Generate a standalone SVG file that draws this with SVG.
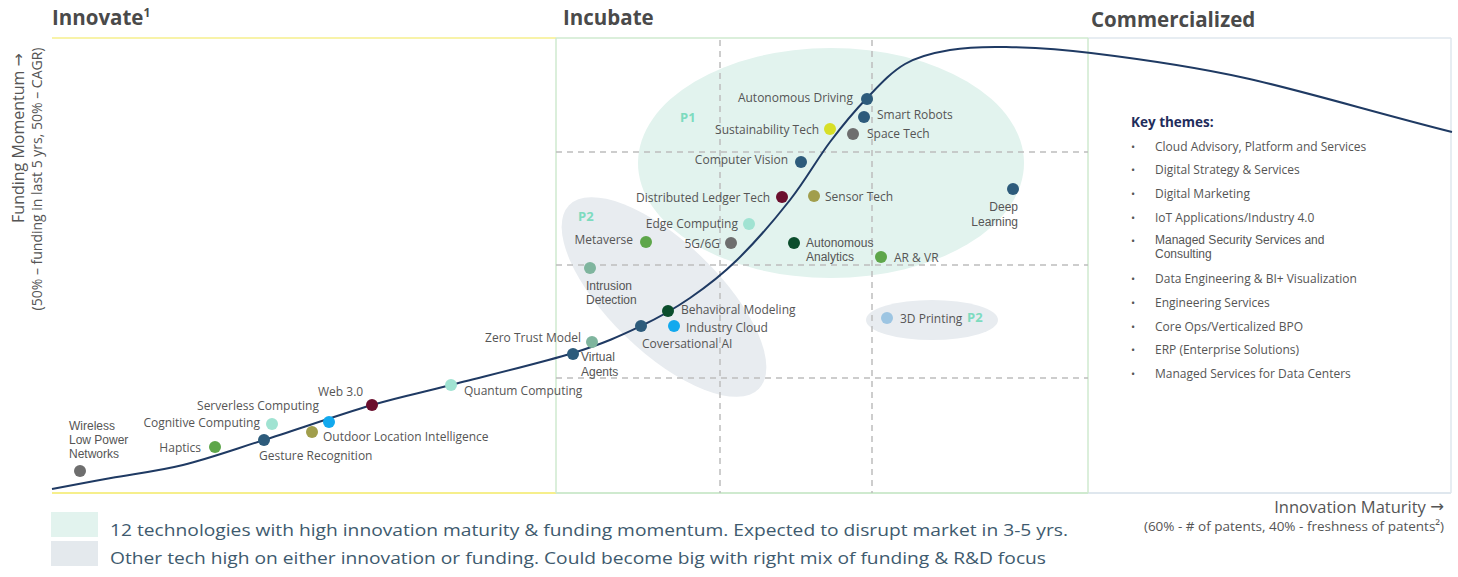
<svg xmlns="http://www.w3.org/2000/svg" width="1458" height="577" viewBox="0 0 1458 577">
<style>
text{font-family:"Open Sans","Liberation Sans",sans-serif;}
.hdr{font-size:20.5px;font-weight:bold;fill:#4a4a4a;}
.lbl{font-size:12px;fill:#555;dominant-baseline:central;}
.ml{font-family:"Liberation Sans",Arial,sans-serif;font-size:12px;}
.end{text-anchor:end;}
.pl{font-size:13px;font-weight:bold;fill:#7ddbbf;dominant-baseline:central;}
.grid{stroke:#bdbdbd;stroke-width:1.5;stroke-dasharray:6 5;fill:none;}
.kt{font-size:12px;fill:#555;dominant-baseline:central;}
.bul{font-size:11px;fill:#555;dominant-baseline:central;}
.leg{font-size:17px;fill:#3e5a6e;dominant-baseline:central;}
.arr{font-family:"DejaVu Sans",sans-serif;}
.dark{fill:#2d5b7b}.grey{fill:#6e6e6e}.green{fill:#5ea64a}.mint{fill:#a0e3d2}.sage{fill:#7fb59e}
.maroon{fill:#6b0f2e}.olive{fill:#a19e4c}.yellow{fill:#d7df26}.bblue{fill:#12a9ee}.dgreen{fill:#0b4d2c}.lblue{fill:#9dc5e2}
</style>

<!-- headers -->
<text class="hdr" x="52" y="25">Innovate<tspan font-size="12" dy="-8">1</tspan></text>
<text class="hdr" x="563" y="25">Incubate</text>
<text class="hdr" x="1091" y="27">Commercialized</text>

<!-- zones -->
<g id="zones">
<ellipse cx="831" cy="163" rx="193" ry="115" fill="#e2f3ee"/>
<ellipse cx="664" cy="297" rx="132" ry="55" transform="rotate(44 664 297)" fill="#e8ecf0"/>
<ellipse cx="932" cy="320" rx="66" ry="20" fill="#e8ecf0"/>
</g>

<!-- frame and grid -->
<g id="frame">
<line x1="52" y1="38" x2="556" y2="38" stroke="#f6ef8c" stroke-width="1.5"/>
<line x1="556" y1="38" x2="1088" y2="38" stroke="#cfeacf" stroke-width="1.5"/>
<line x1="1088" y1="38" x2="1451" y2="38" stroke="#dfe7ee" stroke-width="1.5"/>
<line x1="52" y1="493" x2="556" y2="493" stroke="#f6ef8c" stroke-width="2"/>
<line x1="556" y1="493" x2="1088" y2="493" stroke="#cfeacf" stroke-width="2"/>
<line x1="1088" y1="493" x2="1451" y2="493" stroke="#dfe7ee" stroke-width="2"/>
<line x1="1451" y1="38" x2="1451" y2="493" stroke="#dfe7ee" stroke-width="1.5"/>
<line x1="556" y1="38" x2="556" y2="493" stroke="#cfeacf" stroke-width="1.5"/>
<line x1="1088" y1="38" x2="1088" y2="493" stroke="#cfeacf" stroke-width="1.5"/>
<line class="grid" x1="720" y1="40" x2="720" y2="493"/>
<line class="grid" x1="872" y1="40" x2="872" y2="493"/>
<line class="grid" x1="556" y1="152" x2="1088" y2="152"/>
<line class="grid" x1="556" y1="265" x2="1088" y2="265"/>
<line class="grid" x1="556" y1="378" x2="1088" y2="378"/>
</g>

<!-- curve -->
<g id="connectors">
<path d="M52,489 C61.8,487.2 89.2,482 111,478 C132.8,474 157.5,471.3 183,465 C208.5,458.7 232.5,450 264,440 C295.5,430 340.8,414.2 372,405 C403.2,395.8 417.5,393.7 451,385 C484.5,376.3 541.3,362.8 573,353 C604.7,343.2 621.5,335.2 641,326 C660.5,316.8 674,309 690,298 C706,287 720.3,276.3 737,260 C753.7,243.7 774.5,219.7 790,200 C805.5,180.3 817.2,159 830,142 C842.8,125 854.5,111 867,98 C879.5,85 891.2,72 905,64 C918.8,56 933.2,52.8 950,50 C966.8,47.2 982.5,46.5 1006,47 C1029.5,47.5 1051.2,48 1091,53 C1140,59 1200,68 1245,78 C1300,90 1380,114 1452,132" fill="none" stroke="#1f3a63" stroke-width="2"/>
</g>

<!-- zone labels -->
<text class="pl" x="680" y="117">P1</text>
<text class="pl" x="578" y="216">P2</text>
<text class="pl" x="967" y="317">P2</text>

<!-- nodes -->
<g id="wireless"><circle class="grey" cx="80" cy="471" r="6"/><text class="lbl ml" x="69" y="426">Wireless<tspan x="69" dy="14">Low Power</tspan><tspan x="69" dy="14">Networks</tspan></text></g>
<g id="haptics"><circle class="green" cx="215" cy="447" r="6"/><text class="lbl end" x="201" y="447">Haptics</text></g>
<g id="gesture"><circle class="dark" cx="264" cy="440" r="6"/><text class="lbl" x="259" y="455">Gesture Recognition</text></g>
<g id="cognitive"><circle class="mint" cx="272" cy="424" r="6"/><text class="lbl end" x="260" y="422">Cognitive Computing</text></g>
<g id="outdoor"><circle class="olive" cx="312" cy="432" r="6"/><text class="lbl" x="323" y="436">Outdoor Location Intelligence</text></g>
<g id="serverless"><circle class="bblue" cx="329" cy="422" r="6"/><text class="lbl end" x="319" y="405">Serverless Computing</text></g>
<g id="web3"><circle class="maroon" cx="372" cy="405" r="6"/><text class="lbl" x="318" y="391">Web 3.0</text></g>
<g id="quantum"><circle class="mint" cx="451" cy="385" r="6"/><text class="lbl" x="464" y="390">Quantum Computing</text></g>
<g id="virtual"><circle class="dark" cx="573" cy="354" r="6"/><text class="lbl ml" x="581" y="357">Virtual<tspan x="581" dy="15">Agents</tspan></text></g>
<g id="zerotrust"><circle class="sage" cx="592" cy="342" r="6"/><text class="lbl end" x="581" y="337">Zero Trust Model</text></g>
<g id="conversational"><circle class="dark" cx="641" cy="326" r="6"/><text class="lbl" x="642" y="343">Coversational AI</text></g>
<g id="behavioral"><circle class="dgreen" cx="668" cy="311" r="6"/><text class="lbl" x="681" y="309">Behavioral Modeling</text></g>
<g id="industrycloud"><circle class="bblue" cx="674" cy="326" r="6"/><text class="lbl" x="686" y="327">Industry Cloud</text></g>
<g id="intrusion"><circle class="sage" cx="590" cy="268" r="6"/><text class="lbl ml" x="586" y="286">Intrusion<tspan x="586" dy="14">Detection</tspan></text></g>
<g id="metaverse"><circle class="green" cx="646" cy="242" r="6"/><text class="lbl end" x="633" y="239">Metaverse</text></g>
<g id="edge"><circle class="mint" cx="749" cy="224" r="6"/><text class="lbl end" x="738" y="223">Edge Computing</text></g>
<g id="g5g6"><circle class="grey" cx="731" cy="243" r="6"/><text class="lbl end" x="720" y="243">5G/6G</text></g>
<g id="autoanalytics"><circle class="dgreen" cx="794" cy="243" r="6"/><text class="lbl ml" x="806" y="243">Autonomous<tspan x="806" dy="14">Analytics</tspan></text></g>
<g id="arvr"><circle class="green" cx="881" cy="257" r="6"/><text class="lbl" x="894" y="257">AR &amp; VR</text></g>
<g id="ledger"><circle class="maroon" cx="782" cy="197" r="6"/><text class="lbl end" x="770" y="197">Distributed Ledger Tech</text></g>
<g id="sensor"><circle class="olive" cx="814" cy="196" r="6"/><text class="lbl" x="825" y="196">Sensor Tech</text></g>
<g id="vision"><circle class="dark" cx="801" cy="162" r="6"/><text class="lbl end" x="788" y="159">Computer Vision</text></g>
<g id="sustain"><circle class="yellow" cx="830" cy="129" r="6"/><text class="lbl end" x="819" y="129">Sustainability Tech</text></g>
<g id="space"><circle class="grey" cx="853" cy="134" r="6"/><text class="lbl" x="867" y="133">Space Tech</text></g>
<g id="robots"><circle class="dark" cx="864" cy="117" r="6"/><text class="lbl" x="877" y="114">Smart Robots</text></g>
<g id="driving"><circle class="dark" cx="867" cy="99" r="6"/><text class="lbl end" x="853" y="97">Autonomous Driving</text></g>
<g id="deep"><circle class="dark" cx="1013" cy="189" r="6"/><text class="lbl ml end" x="1018" y="207">Deep<tspan x="1018" dy="15">Learning</tspan></text></g>
<g id="printing"><circle class="lblue" cx="887" cy="318" r="6"/><text class="lbl" x="900" y="318">3D Printing</text></g>

<!-- key themes -->
<g id="keythemes">
<text x="1131" y="122" font-size="13.5" font-weight="bold" fill="#1f2d5c" dominant-baseline="central">Key themes:</text>
<g class="bul">
<text x="1131" y="146">•</text><text class="kt" x="1155" y="146">Cloud Advisory, Platform and Services</text>
<text x="1131" y="169">•</text><text class="kt" x="1155" y="169">Digital Strategy &amp; Services</text>
<text x="1131" y="193">•</text><text class="kt" x="1155" y="193">Digital Marketing</text>
<text x="1131" y="217">•</text><text class="kt" x="1155" y="217">IoT Applications/Industry 4.0</text>
<text x="1131" y="240">•</text><text class="kt ml" x="1155" y="240">Managed Security Services and<tspan x="1155" dy="14">Consulting</tspan></text>
<text x="1131" y="278">•</text><text class="kt" x="1155" y="278">Data Engineering &amp; BI+ Visualization</text>
<text x="1131" y="302">•</text><text class="kt" x="1155" y="302">Engineering Services</text>
<text x="1131" y="326">•</text><text class="kt" x="1155" y="326">Core Ops/Verticalized BPO</text>
<text x="1131" y="349">•</text><text class="kt" x="1155" y="349">ERP (Enterprise Solutions)</text>
<text x="1131" y="373">•</text><text class="kt" x="1155" y="373">Managed Services for Data Centers</text>
</g>
</g>

<!-- axes -->
<text transform="translate(24 138) rotate(-90)" text-anchor="middle" font-size="16" fill="#555" font-family="Liberation Sans, Arial, sans-serif">Funding Momentum <tspan class="arr">→</tspan></text>
<text transform="translate(42 179) rotate(-90)" text-anchor="middle" font-size="14" fill="#555" font-family="Liberation Sans, Arial, sans-serif">(50% – funding in last 5 yrs, 50% – CAGR)</text>
<text x="1444" y="506" text-anchor="end" font-size="16.5" fill="#555" dominant-baseline="central">Innovation Maturity <tspan class="arr">→</tspan></text>
<text x="1444" y="526" text-anchor="end" font-size="13.5" fill="#555" dominant-baseline="central">(60% - # of patents, 40% - freshness of patents²)</text>

<!-- legend -->
<g id="legend">
<rect x="51" y="512" width="47" height="25" fill="#e2f3ee"/>
<rect x="51" y="541" width="47" height="25" fill="#e4e9ed"/>
<text class="leg" x="110" y="529" textLength="958" lengthAdjust="spacingAndGlyphs">12 technologies with high innovation maturity &amp; funding momentum. Expected to disrupt market in 3-5 yrs.</text>
<text class="leg" x="110" y="557" textLength="936" lengthAdjust="spacingAndGlyphs">Other tech high on either innovation or funding. Could become big with right mix of funding &amp; R&amp;D focus</text>
</g>
</svg>
